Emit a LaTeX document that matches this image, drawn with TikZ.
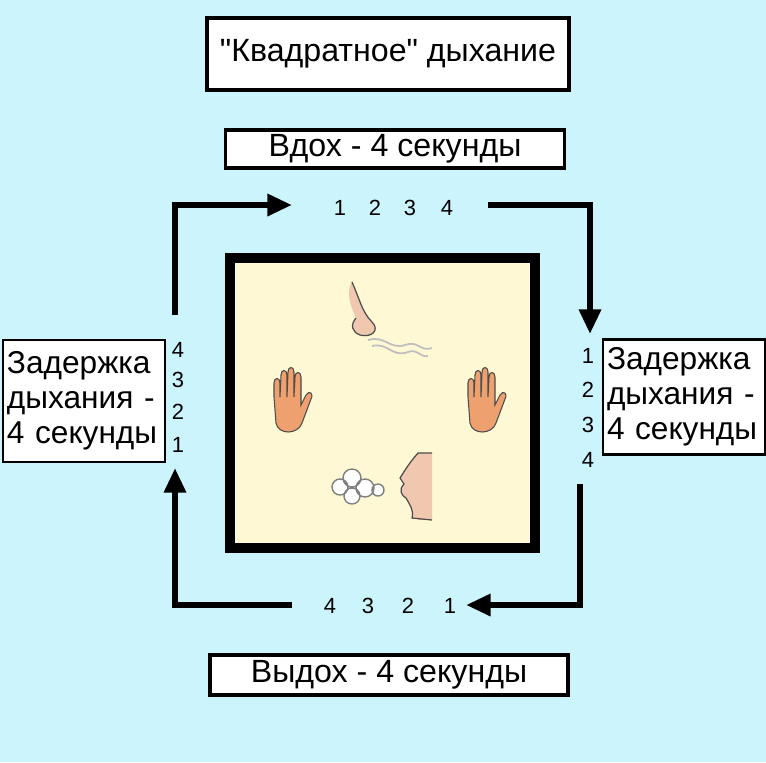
\documentclass[tikz,border=0pt]{standalone}
\usepackage{fontspec}
\setmainfont{Liberation Sans}
\newfontfamily\qf{Liberation Sans}
\usetikzlibrary{arrows.meta}
\definecolor{bg}{RGB}{204,244,252}
\definecolor{inner}{RGB}{255,248,212}
\definecolor{skin}{RGB}{238,160,110}
\definecolor{nose}{RGB}{240,200,175}
\tikzset{
  px/.style={x=0.02cm,y=-0.02cm},
  lbl/.style={draw=black,line width=2.5pt,fill=white,inner sep=0pt,font=\fontsize{18.3}{21}\selectfont},
  sidebox/.style={draw=black,line width=1.5pt,fill=white,inner sep=0pt,font=\fontsize{18}{20}\selectfont,align=left},
  num/.style={font=\fontsize{12.5}{14}\selectfont,inner sep=0pt,text height=9pt,text depth=0pt},
  flow/.style={line width=3.4pt,-{Triangle[length=14pt,width=12pt]}},
  hand/.style={fill=skin,draw=black!70,line width=0.6pt}
}
\begin{document}
\begin{tikzpicture}[px]
\fill[bg] (0,0) rectangle (766,762);
\useasboundingbox (0,0) rectangle (766,762);
\node[lbl,minimum width=362*0.02cm,minimum height=72*0.02cm] (title) at (388,54) {\qf"Квадратное" дыхание};
\node[lbl,line width=2pt,minimum width=339*0.02cm,minimum height=38*0.02cm] (in) at (395,149) {Вдох - 4 секунды};
\node[lbl,line width=2pt,minimum width=358*0.02cm,minimum height=40*0.02cm] (out) at (389,675) {Выдох - 4 секунды};
\node[sidebox,minimum width=162*0.02cm,minimum height=122*0.02cm,text width=154*0.02cm] (left) at (84,401) {Задержка\\дыхания -\\4 секунды};
\node[sidebox,minimum width=162*0.02cm,minimum height=115*0.02cm,text width=154*0.02cm] (right) at (684,397) {Задержка\\дыхания -\\4 секунды};
% inner square
\draw[line width=5.5pt,fill=inner] (230,258) rectangle (535,548);
% numbers
\foreach \t/\x in {1/340,2/375,3/410,4/447} \node[num] (t\t) at (\x,208) {\t};
\foreach \t/\x in {4/330,3/368,2/408,1/450} \node[num] (b\t) at (\x,606) {\t};
\foreach \t/\y in {4/350,3/380,2/412,1/445} \node[num] (l\t) at (178,\y) {\t};
\foreach \t/\y in {1/356,2/390,3/425,4/460} \node[num] (r\t) at (588,\y) {\t};
% arrows
\coordinate (a1) at (175,315); \coordinate (a2) at (175,205); \coordinate (a3) at (292,205);
\draw[flow] (a1) -- (a2) -- (a3);
\coordinate (c1) at (488,205); \coordinate (c2) at (590,205); \coordinate (c3) at (590,334);
\draw[flow] (c1) -- (c2) -- (c3);
\coordinate (d1) at (580,484); \coordinate (d2) at (580,605); \coordinate (d3) at (466,605);
\draw[flow] (d1) -- (d2) -- (d3);
\coordinate (e1) at (292,605); \coordinate (e2) at (175,605); \coordinate (e3) at (175,468);
\draw[flow] (e1) -- (e2) -- (e3);
% nose
\fill[nose] (352,282) .. controls (360,300) and (362,312) .. (372,322) .. controls (380,330) and (372,338) .. (360,335) .. controls (352,332) and (350,325) .. (356,318) .. controls (350,305) and (346,292) .. (352,282);
\draw[black!70,line width=0.7pt] (352,282) .. controls (360,300) and (362,312) .. (372,322) .. controls (380,330) and (372,338) .. (360,335) .. controls (352,332) and (350,325) .. (356,318);
\draw[gray!50,line width=1pt] (368,340) .. controls (385,335) and (390,350) .. (405,345) .. controls (418,340) and (420,352) .. (432,348);
\draw[gray!50,line width=1pt] (372,346) .. controls (388,342) and (392,358) .. (408,352) .. controls (418,348) and (420,358) .. (428,356);
% mouth and puff
\fill[skin!70] (418,453) rectangle (432,520);
\draw[black!70,line width=0.7pt,fill=nose] (432,453) -- (418,453) .. controls (410,462) and (405,470) .. (400,478) -- (404,484) .. controls (398,490) and (402,496) .. (406,498) .. controls (410,505) and (414,510) .. (412,518) -- (432,520);
\draw[gray,line width=0.8pt,fill=white] (340,487) circle (8) (352,478) circle (9) (365,488) circle (9) (352,496) circle (8) (378,490) circle (6);
% hands
\foreach \cx in {290,484}{
\begin{scope}[shift={(\cx,405)}]
\draw[hand] (-16,-8) -- (-16,-22) .. controls (-16,-28) and (-10,-28) .. (-10,-22) -- (-10,-8)
 -- (-9,-30) .. controls (-9,-36) and (-3,-36) .. (-3,-30) -- (-3,-8)
 -- (-2,-33) .. controls (-2,-39) and (4,-39) .. (4,-33) -- (4,-8)
 -- (5,-28) .. controls (5,-34) and (11,-34) .. (11,-28) -- (11,0)
 -- (16,-10) .. controls (19,-15) and (24,-12) .. (21,-6) -- (12,18)
 .. controls (8,30) and (-12,30) .. (-14,18) -- (-16,-8);
\end{scope}}
\end{tikzpicture}
\end{document}
